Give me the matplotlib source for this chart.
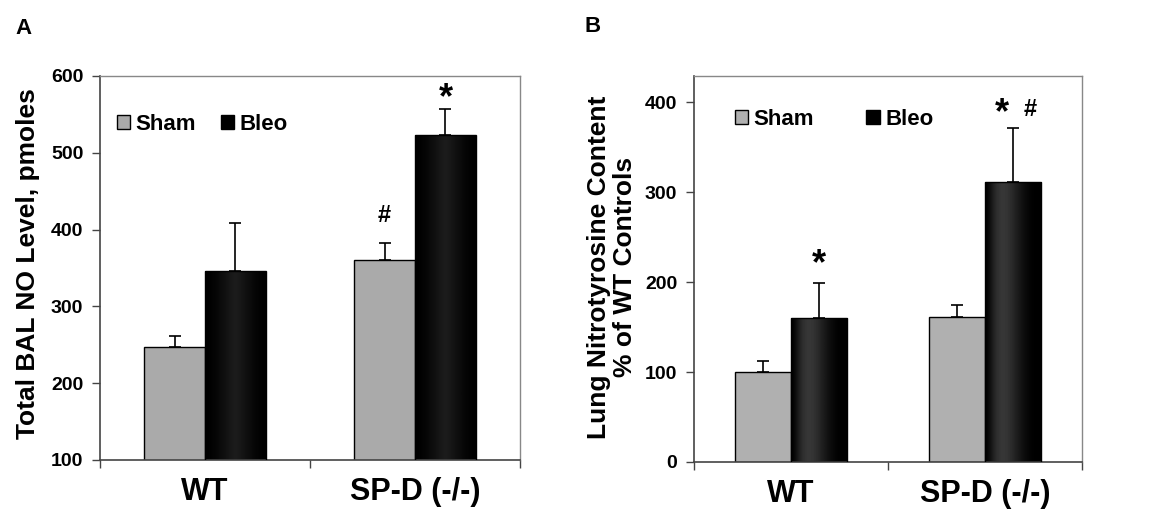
import numpy as np
import matplotlib.pyplot as plt
from matplotlib.patches import Patch

plt.rcParams['font.family'] = ['Liberation Sans', 'DejaVu Sans']
plt.rcParams['font.weight'] = 'bold'

groups = ['WT', 'SP-D (-/-)']
series = ['Sham', 'Bleo']

# panel A: total BAL NO level (pmoles), mean and upper error
no_sham = [247, 361]
no_sham_err = [14, 21]
no_bleo = [346, 523]
no_bleo_err = [63, 34]
# (group, series) -> list of (text, x offset pt, y offset pt)
no_marks = {(1, 0): [('#', 0, 12)], (1, 1): [('*', 0, -5.5)]}

# panel B: lung nitrotyrosine, % of WT controls
nt_sham = [100, 161]
nt_sham_err = [12, 14]
nt_bleo = [160, 311]
nt_bleo_err = [39, 60]
nt_marks = {(0, 1): [('*', 0, 0.5)], (1, 1): [('*', -8, -2), ('#', 12, 5)]}


def gradient_fill(ax, bars, profile):
    img = np.array(profile)[None, :]
    ybot = ax.get_ylim()[0]
    for b in bars:
        x0 = b.get_x()
        im = ax.imshow(img, cmap='gray', vmin=0, vmax=1, aspect='auto',
                       extent=(x0, x0 + b.get_width(), ybot, b.get_y() + b.get_height()),
                       interpolation='bicubic', zorder=2)
        im.set_clip_path(b)


def panel(ax, sham, sham_err, bleo, bleo_err, ylim, yticks, marks, profile,
          leg_anchor, colspace, sham_color):
    w = 0.29
    x = np.arange(len(groups))
    ax.set_xlim(-0.5, 1.5)
    ax.set_ylim(*ylim)
    b1 = ax.bar(x - w / 2, sham, w, color=sham_color,
                edgecolor='black', linewidth=1, zorder=2)
    b2 = ax.bar(x + w / 2, bleo, w, color='black', edgecolor='black',
                linewidth=1, zorder=2)
    gradient_fill(ax, b2, profile)
    for b in b2:
        b.set_facecolor('none')
        b.set_zorder(3)
    ax.set_xlim(-0.5, 1.5)
    ax.set_ylim(*ylim)
    ax.errorbar(x - w / 2, sham, yerr=[np.zeros(2), sham_err], fmt='none',
                ecolor='black', elinewidth=1.2, capsize=4.5, capthick=1.2, zorder=1)
    ax.errorbar(x + w / 2, bleo, yerr=[np.zeros(2), bleo_err], fmt='none',
                ecolor='black', elinewidth=1.2, capsize=4.5, capthick=1.2, zorder=1)

    tops = [np.add(sham, sham_err), np.add(bleo, bleo_err)]
    for (g, s), items in marks.items():
        xs = x[g] + (w / 2 if s else -w / 2)
        for txt, dx, dy in items:
            ax.annotate(txt, (xs, tops[s][g]), xytext=(dx, dy), textcoords='offset points',
                        ha='center', va='bottom', fontsize=17 if txt == '#' else 26)

    ax.set_yticks(yticks)
    ax.set_xticks([-0.5, 0.5, 1.5])
    ax.set_xticklabels([])
    ax.set_xticks(x, minor=True)
    ax.set_xticklabels(groups, minor=True, fontsize=22, fontweight='bold')
    ax.tick_params(axis='x', which='minor', length=0, pad=12)
    ax.tick_params(axis='x', which='major', length=6, width=1, color='#444444',
                   direction='out')
    ax.tick_params(axis='y', length=6, width=1, color='#444444', labelsize=14,
                   direction='out', pad=6)
    for s in ['left', 'bottom']:
        ax.spines[s].set_color('#444444')
        ax.spines[s].set_linewidth(1.2)
    for s in ['top', 'right']:
        ax.spines[s].set_color('#888888')
        ax.spines[s].set_linewidth(1)

    handles = [Patch(facecolor=sham_color, edgecolor='black', linewidth=1),
               Patch(facecolor='black', edgecolor='black', linewidth=1)]
    ax.legend(handles, series, loc='center left', bbox_to_anchor=leg_anchor,
              ncol=2, frameon=False, fontsize=16, handlelength=0.6,
              handleheight=0.6, handletextpad=0.25, columnspacing=colspace,
              borderaxespad=0, borderpad=0)


fig = plt.figure(figsize=(11.67, 5.21), dpi=100)
W, H = 1167, 521

axA = fig.add_axes([100 / W, 1 - 460 / H, 420 / W, 384 / H])
profA = [0.0, 0.02, 0.05, 0.08, 0.12, 0.08, 0.05, 0.02, 0.0]
panel(axA, no_sham, no_sham_err, no_bleo, no_bleo_err, (100, 600),
      [100, 200, 300, 400, 500, 600], no_marks, profA, (0.04, 0.873), 1.1, '#aaaaaa')

axB = fig.add_axes([694 / W, 1 - 462 / H, 388 / W, 386 / H])
profB = [0.0, 0.12, 0.2, 0.22, 0.2, 0.15, 0.1, 0.05, 0.02, 0.0, 0.0]
panel(axB, nt_sham, nt_sham_err, nt_bleo, nt_bleo_err, (0, 429),
      [0, 100, 200, 300, 400], nt_marks, profB, (0.105, 0.888), 2.35, '#b0b0b0')

fig.text(28 / W, 1 - 264 / H, 'Total BAL NO Level, pmoles', rotation=90,
         ha='center', va='center', fontsize=19, fontweight='bold')
fig.text(612 / W, 1 - 267 / H, 'Lung Nitrotyrosine Content\n% of WT Controls',
         rotation=90, ha='center', va='center', fontsize=19, fontweight='bold',
         linespacing=1.15, multialignment='center')
fig.text(23 / W, 1 - 28 / H, 'A', ha='center', va='center', fontsize=16,
         fontweight='bold')
fig.text(593 / W, 1 - 27 / H, 'B', ha='center', va='center', fontsize=16,
         fontweight='bold')

fig.savefig('out.png', dpi=100)
